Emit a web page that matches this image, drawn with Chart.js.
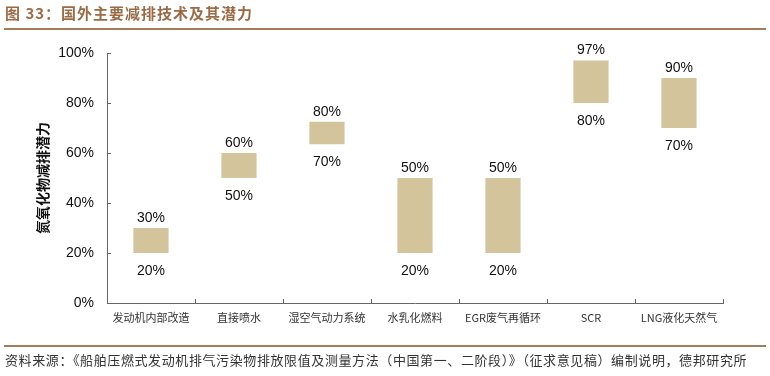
<!DOCTYPE html>
<html>
<head>
<meta charset="utf-8">
<script src="https://cdn.jsdelivr.net/npm/chart.js@4.4.1/dist/chart.umd.min.js"></script>
<style>
    body { margin: 0; background: #fff; width: 770px; height: 376px; overflow: hidden; position: relative;
           font-family: "Noto Sans CJK SC", sans-serif; }
    #myChart { position: absolute; left: 0; top: 0; }
    #title { position: absolute; left: 5px; top: 2px; font-size: 15px; font-weight: bold; color: #9b6b45; letter-spacing: 1px; white-space: nowrap; }
    .rule { position: absolute; left: 4px; width: 762px; height: 2px; background: #a57c5b; }
    #foot { position: absolute; left: 5px; top: 350px; font-size: 13px; color: #333; letter-spacing: 0.6px; white-space: nowrap; }
</style>
</head>
<body>
<canvas id="myChart" width="770" height="376"></canvas>
<div id="title">图 33：国外主要减排技术及其潜力</div>
<div class="rule" style="top:28px"></div>
<div class="rule" style="top:345px"></div>
<div id="foot">资料来源：《船舶压燃式发动机排气污染物排放限值及测量方法（中国第一、二阶段）》（征求意见稿）编制说明，德邦研究所</div>
<script>
/*---------------------------------------------------------------*/
/*----------------------------- data ----------------------------*/
/*---------------------------------------------------------------*/
const categories = ['发动机内部改造', '直接喷水', '湿空气动力系统', '水乳化燃料', 'EGR废气再循环', 'SCR', 'LNG液化天然气'];
// 柱子在图上的上下沿(%)
const lows  = [20, 50, 63.5, 20, 20, 80, 70];
const highs = [30, 60, 72.5, 50, 50, 97, 90];
// 柱子上下标注的文字
const lowLabels  = ['20%', '50%', '70%', '20%', '20%', '80%', '70%'];
const highLabels = ['30%', '60%', '80%', '50%', '50%', '97%', '90%'];
const yTicks = [0, 20, 40, 60, 80, 100];
const yTitle = '氮氧化物减排潜力';

const axisColor = '#666';

// 上下标注
const rangeLabels = {
    id: 'rangeLabels',
    afterDatasetsDraw(chart) {
        const ctx = chart.ctx;
        const x = chart.scales.x, y = chart.scales.y;
        ctx.save();
        ctx.font = '14px "Liberation Sans", Arial, sans-serif';
        ctx.fillStyle = '#111';
        ctx.textAlign = 'center';
        ctx.textBaseline = 'middle';
        categories.forEach((c, i) => {
            const cx = x.getPixelForValue(i);
            ctx.fillText(highLabels[i], cx, y.getPixelForValue(highs[i]) - 10);
            ctx.fillText(lowLabels[i], cx, y.getPixelForValue(lows[i]) + 18);
        });
        ctx.restore();
    }
};

// 坐标轴向内的刻度线
const innerTicks = {
    id: 'innerTicks',
    afterDraw(chart) {
        const ctx = chart.ctx;
        const x = chart.scales.x, y = chart.scales.y;
        const area = chart.chartArea;
        ctx.save();
        ctx.strokeStyle = axisColor;
        ctx.lineWidth = 1;
        ctx.beginPath();
        yTicks.forEach(v => {
            const py = Math.round(y.getPixelForValue(v)) + 0.5;
            ctx.moveTo(area.left, py);
            ctx.lineTo(area.left + 4, py);
        });
        for (let i = 0; i <= categories.length; i++) {
            const px = Math.round(x.getPixelForValue(i - 0.5)) + 0.5;
            ctx.moveTo(px, area.bottom);
            ctx.lineTo(px, area.bottom - 4);
        }
        ctx.stroke();
        ctx.restore();
    }
};

/*---------------------------------------------------------------*/
/*----------------------------- chart ---------------------------*/
/*---------------------------------------------------------------*/
const config = {
    type: 'bar',
    data: {
        labels: categories,
        datasets: [{
            data: lows.map((v, i) => [v, highs[i]]),
            backgroundColor: '#d4c49c',
            borderWidth: 0,
            borderSkipped: false,
            barPercentage: 0.4,
            categoryPercentage: 1
        }]
    },
    options: {
        responsive: false,
        animation: false,
        layout: { padding: { top: 53, right: 47, left: 0, bottom: 0 } },
        plugins: {
            legend: { display: false },
            tooltip: { enabled: false }
        },
        scales: {
            x: {
                grid: { display: false },
                border: { color: axisColor },
                ticks: {
                    color: '#333',
                    padding: 0,
                    maxRotation: 0,
                    autoSkip: false,
                    font: { family: '"Noto Sans CJK SC", sans-serif', size: 11 }
                },
                afterFit(scale) { scale.height = 73; }
            },
            y: {
                min: 0,
                max: 100,
                grid: { display: false },
                border: { color: axisColor },
                ticks: {
                    stepSize: 20,
                    color: '#111',
                    padding: 5,
                    font: { family: '"Liberation Sans", Arial, sans-serif', size: 14 },
                    callback: v => v + '%'
                },
                title: {
                    display: true,
                    text: yTitle,
                    color: '#111',
                    padding: { top: 34, bottom: 0 },
                    font: { family: '"Noto Sans CJK SC", sans-serif', size: 14, weight: 'bold' }
                },
                afterFit(scale) { scale.width = 107; }
            }
        }
    },
    plugins: [rangeLabels, innerTicks]
};
const myChart = new Chart(document.getElementById('myChart'), config);
</script>
</body>
</html>
